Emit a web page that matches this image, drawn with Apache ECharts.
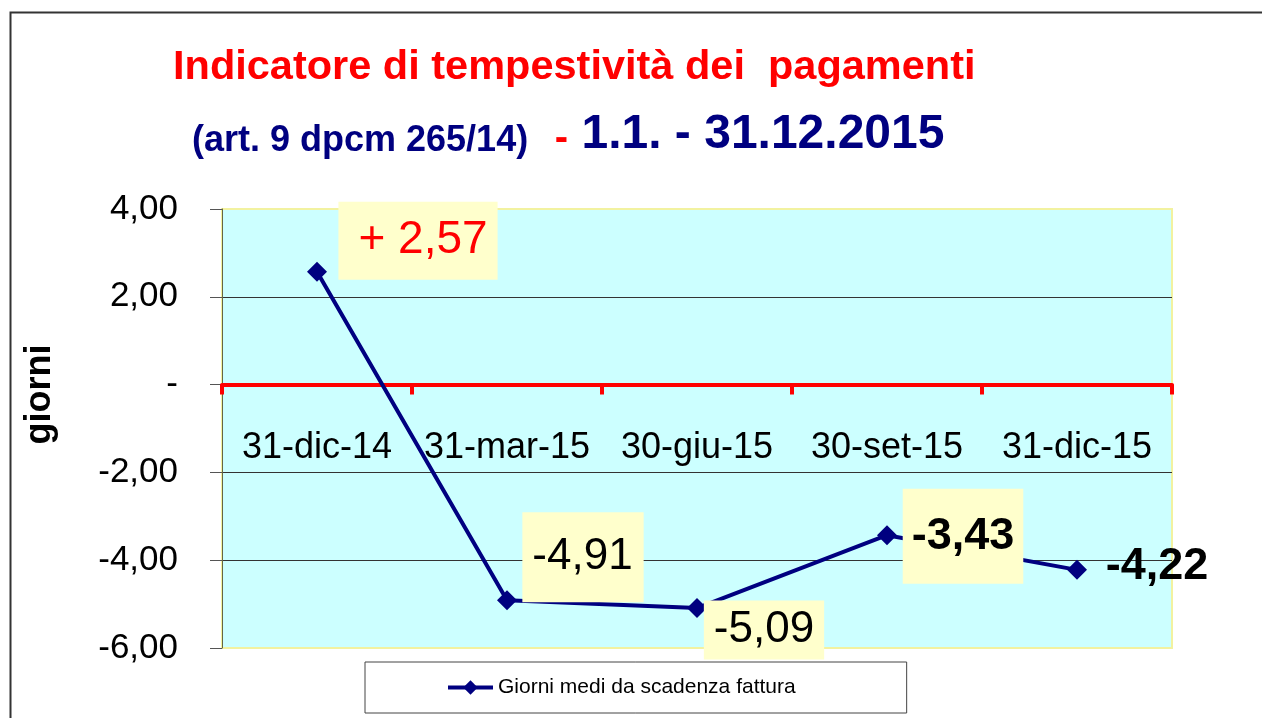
<!DOCTYPE html>
<html>
<head>
<meta charset="utf-8">
<title>Indicatore di tempestività dei pagamenti</title>
<script src="https://cdn.jsdelivr.net/npm/echarts@6/dist/echarts.min.js"></script>
<style>
    html, body { margin: 0; padding: 0; background: #fff; }
    #chart { width: 1262px; height: 718px; }
</style>
</head>
<body>
<div id="chart"></div>
<script>
'use strict';
// dati
let categorie = ['31-dic-14', '31-mar-15', '30-giu-15', '30-set-15', '31-dic-15'];
let giorniMedi = [2.57, -4.91, -5.09, -3.43, -4.22];
let tickGiorni = [-6, -4, -2, 0, 2, 4];

// formato italiano con la virgola
function fmt(v) {
    return v.toFixed(2).replace('.', ',');
}

let font = 'Liberation Sans, Arial, sans-serif';

// area del grafico
let gridTop = 209;
let gridBottom = 648;
// l'asse delle categorie sta sullo zero
let zeroY = gridTop + (gridBottom - gridTop) * tickGiorni[tickGiorni.length - 1] / (tickGiorni[tickGiorni.length - 1] - tickGiorni[0]);

// posizione e stile di ogni etichetta (come nel grafico originale)
let etichette = [
    {offset: [101, -31], color: '#ff0000', fontSize: 46, fontWeight: 'normal', bg: '#ffffcc', padding: [16, 10, 16, 20]},
    {offset: [76, -43], color: '#000', fontSize: 44, fontWeight: 'normal', bg: '#ffffcc', padding: [23, 11, 23, 10]},
    {offset: [67, 22], color: '#000', fontSize: 44, fontWeight: 'normal', bg: '#ffffcc', padding: [8, 10, 7, 10]},
    {offset: [76, 1], color: '#000', fontSize: 45, fontWeight: 'bold', bg: '#ffffcc', padding: [25, 9, 25, 9]},
    {offset: [80, -3], color: '#000', fontSize: 45, fontWeight: 'bold', bg: 'transparent', padding: 0},
];

let seriesData = [];
for (let i = 0; i < giorniMedi.length; i++) {
    let e = etichette[i];
    seriesData.push({
        value: giorniMedi[i],
        label: {
            show: true,
            position: 'inside',
            offset: e.offset,
            align: 'center',
            verticalAlign: 'middle',
            color: e.color,
            fontSize: e.fontSize,
            lineHeight: e.fontSize,
            fontWeight: e.fontWeight,
            fontFamily: font,
            backgroundColor: e.bg,
            padding: e.padding,
            formatter: function(p) {
                return p.value > 0 ? '+ ' + fmt(p.value) : fmt(p.value);
            },
        },
    });
}

let myChart = echarts.init(document.getElementById('chart'));
let option = {
    textStyle: {fontFamily: font},
    animation: false,
    title: [
        {
            text: 'Indicatore di tempestività dei  pagamenti',
            left: 173,
            top: 47,
            padding: 0,
            textStyle: {color: '#ff0000', fontSize: 41.5, fontWeight: 'bold', fontFamily: font},
        },
        {
            text: '{a|(art. 9 dpcm 265/14)}{s|  }{r|-}{s| }{b|1.1. - 31.12.2015}',
            left: 192,
            top: 111,
            padding: 0,
            textStyle: {
                fontFamily: font,
                rich: {
                    a: {color: '#000080', fontSize: 36, fontWeight: 'bold', fontFamily: font, verticalAlign: 'bottom', lineHeight: 48},
                    s: {color: '#000080', fontSize: 48, fontWeight: 'bold', fontFamily: font, verticalAlign: 'bottom', lineHeight: 48},
                    r: {color: '#ff0000', fontSize: 40, fontWeight: 'bold', fontFamily: font, verticalAlign: 'bottom', lineHeight: 48},
                    b: {color: '#000080', fontSize: 48, fontWeight: 'bold', fontFamily: font, verticalAlign: 'bottom', lineHeight: 48},
                },
            },
        },
    ],
    // cornice esterna
    graphic: [
        {
            type: 'rect',
            left: 8,
            top: 10,
            z: -10,
            shape: {width: 1300, height: 800},
            style: {fill: 'none', stroke: '#333', lineWidth: 2},
        },
    ],
    legend: {
        left: 365,
        top: 662,
        padding: [13, 111, 13, 81],
        itemWidth: 45,
        itemHeight: 18,
        itemGap: 7,
        backgroundColor: '#fff',
        borderColor: '#444',
        borderWidth: 1,
        lineStyle: {width: 4},
        textStyle: {color: '#000', fontSize: 21, fontFamily: font, lineHeight: 25},
        data: ['Giorni medi da scadenza fattura'],
    },
    grid: {
        left: 222,
        right: 90,
        top: gridTop,
        bottom: 718 - gridBottom,
        containLabel: false,
        outerBoundsMode: 'none',
        show: true,
        backgroundColor: '#ccffff',
        borderColor: '#f2f2a0',
        borderWidth: 2,
    },
    xAxis: {
        type: 'category',
        data: categorie,
        boundaryGap: true,
        position: 'bottom',
        offset: zeroY - gridBottom,
        axisLine: {onZero: false, lineStyle: {color: '#ff0000', width: 4}},
        axisTick: {show: true, interval: 0, length: 10, lineStyle: {color: '#ff0000', width: 4}},
        axisLabel: {color: '#000', fontSize: 36, margin: 45, interval: 0, fontFamily: font},
        splitLine: {show: false},
        z: 5,
    },
    yAxis: {
        type: 'value',
        min: tickGiorni[0],
        max: tickGiorni[tickGiorni.length - 1],
        interval: 2,
        name: 'giorni',
        nameLocation: 'middle',
        nameRotate: 90,
        nameGap: 164,
        nameTextStyle: {color: '#000', fontSize: 36, fontWeight: 'bold', fontFamily: font, padding: [0, 0, 0, 68]},
        axisLine: {show: true, lineStyle: {color: '#666644', width: 1}},
        axisTick: {show: true, length: 12, lineStyle: {color: '#555', width: 1}},
        axisLabel: {
            color: '#000',
            fontSize: 35,
            margin: 44,
            padding: [8, 0, 0, 0],
            fontFamily: font,
            formatter: function(v) {
                return v === 0 ? '-' : fmt(v);
            },
        },
        splitLine: {
            show: true,
            lineStyle: {color: ['#f2f2a0', '#333', '#333', '#333', '#333', '#f2f2a0'], width: 1},
        },
    },
    series: [
        {
            name: 'Giorni medi da scadenza fattura',
            type: 'line',
            data: seriesData,
            symbol: 'diamond',
            symbolSize: 20,
            color: '#000080',
            lineStyle: {color: '#000080', width: 4},
            itemStyle: {color: '#000080'},
            z: 6,
        },
    ],
};
myChart.setOption(option);
</script>
</body>
</html>
